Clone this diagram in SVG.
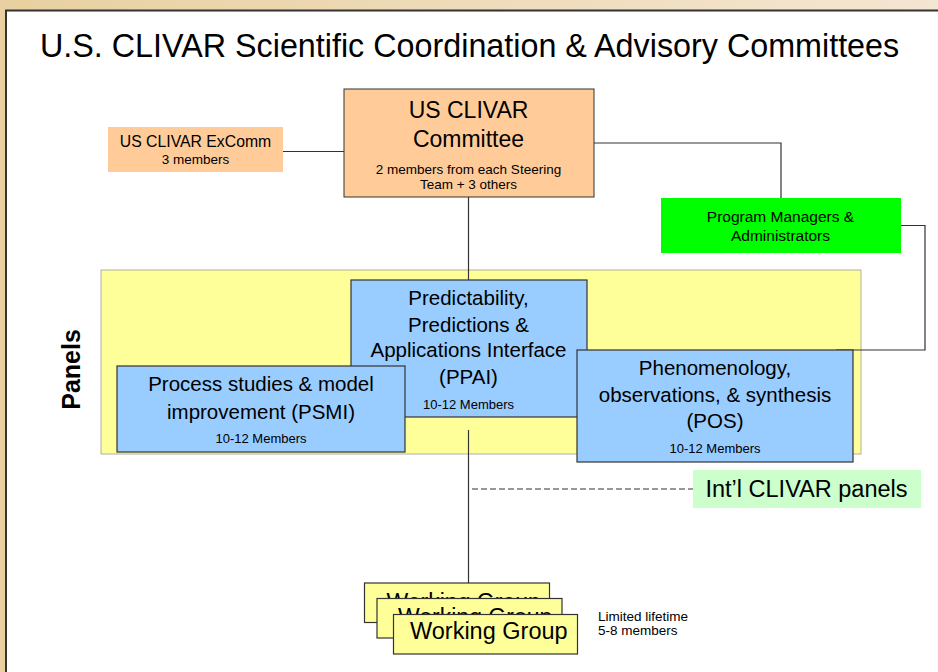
<svg xmlns="http://www.w3.org/2000/svg" width="938" height="672" viewBox="0 0 938 672">
  <defs>
    <linearGradient id="tan" x1="0" y1="0" x2="1" y2="0">
      <stop offset="0" stop-color="#E8D0A0"/>
      <stop offset="1" stop-color="#F4E6D2"/>
    </linearGradient>
    <!-- visible parts of the stacked working-group labels -->
    <clipPath id="wg1clip"><rect x="364.5" y="583" width="185" height="15.5"/></clipPath>
    <clipPath id="wg2clip"><rect x="377" y="598.5" width="182" height="16"/></clipPath>
  </defs>
  <style>
    text { font-family: "Liberation Sans", Arial, sans-serif; fill: #000; }
    .mid { text-anchor: middle; }
    .orange { fill: #FFCC99; }
    .orangeb { fill: #FFCC99; stroke: #333; stroke-width: 1; }
    .blue { fill: #99CCFF; stroke: #333; stroke-width: 1.2; }
    .wg { fill: #FFFF99; stroke: #333; stroke-width: 1.2; }
    .link { fill: none; stroke: #333; stroke-width: 1.2; }
    .dash { fill: none; stroke: #333; stroke-width: 1.1; stroke-dasharray: 6 3; }
  </style>

  <!-- page background and slide frame -->
  <rect x="0" y="0" width="938" height="672" fill="url(#tan)"/>
  <rect x="6" y="10.5" width="940" height="670" fill="#fff" stroke="#333" stroke-width="2"/>

  <text x="40" y="57" font-size="32.3">U.S. CLIVAR Scientific Coordination &amp; Advisory Committees</text>

  <!-- panels container -->
  <g id="panels">
    <rect x="101" y="270" width="760" height="184" fill="#FFFF99" stroke="#B0B0A0" stroke-width="1"/>
    <text transform="translate(80,369.5) rotate(-90)" class="mid" font-size="25" font-weight="bold">Panels</text>
  </g>

  <!-- connectors -->
  <g id="connectors">
    <line class="link" x1="283" y1="151.5" x2="344" y2="151.5"/>
    <polyline class="link" points="594,143 781,143 781,198"/>
    <polyline class="link" points="901,225.5 925,225.5 925,350 836,350"/>
    <line class="link" x1="468.5" y1="197" x2="468.5" y2="280"/>
    <line class="link" x1="468.5" y1="430" x2="468.5" y2="583"/>
    <line class="dash" x1="472" y1="489" x2="693" y2="489"/>
  </g>

  <g id="excomm">
    <rect class="orange" x="108" y="127" width="175" height="45"/>
    <text class="mid" x="195.5" y="147" font-size="15.8">US CLIVAR ExComm</text>
    <text class="mid" x="195.5" y="163.5" font-size="13.5">3 members</text>
  </g>

  <g id="committee">
    <rect class="orangeb" x="344" y="89" width="250" height="108"/>
    <text class="mid" x="468.5" y="117.5" font-size="23">US CLIVAR</text>
    <text class="mid" x="468.5" y="147" font-size="23">Committee</text>
    <text class="mid" x="468.5" y="173.5" font-size="13.5">2 members from each Steering</text>
    <text class="mid" x="468.5" y="189" font-size="13.5">Team + 3 others</text>
  </g>

  <g id="program-managers">
    <rect x="661" y="198" width="240" height="55" fill="#00FF00"/>
    <text class="mid" x="780.5" y="222" font-size="15.5">Program Managers &amp;</text>
    <text class="mid" x="780.5" y="241" font-size="15.5">Administrators</text>
  </g>

  <g id="ppai">
    <rect class="blue" x="351" y="280" width="236" height="137"/>
    <text class="mid" x="468.5" y="305" font-size="20.5">Predictability,</text>
    <text class="mid" x="468.5" y="331.5" font-size="20.5">Predictions &amp;</text>
    <text class="mid" x="468.5" y="356.5" font-size="20.5">Applications Interface</text>
    <text class="mid" x="468.5" y="383.5" font-size="20.5">(PPAI)</text>
    <text class="mid" x="468.5" y="408.5" font-size="13">10-12 Members</text>
  </g>

  <g id="psmi">
    <rect class="blue" x="117" y="366" width="288" height="86"/>
    <text class="mid" x="261" y="391" font-size="20.5">Process studies &amp; model</text>
    <text class="mid" x="261" y="418.5" font-size="20.5">improvement (PSMI)</text>
    <text class="mid" x="261" y="443" font-size="13">10-12 Members</text>
  </g>

  <g id="pos">
    <rect class="blue" x="577" y="350" width="276" height="112"/>
    <text class="mid" x="715" y="375" font-size="20.5">Phenomenology,</text>
    <text class="mid" x="715" y="402" font-size="20.5">observations, &amp; synthesis</text>
    <text class="mid" x="715" y="427.5" font-size="20.5">(POS)</text>
    <text class="mid" x="715" y="452.5" font-size="13">10-12 Members</text>
  </g>

  <g id="intl-panels">
    <rect x="693" y="470" width="228" height="38" fill="#CCFFCC"/>
    <text class="mid" x="806.5" y="497" font-size="23.5">Int’l CLIVAR panels</text>
  </g>

  <!-- stacked working groups, each front card hides the one behind -->
  <g id="working-group-1">
    <rect class="wg" x="364.5" y="583" width="185" height="39.5"/>
    <text x="386.5" y="610" font-size="23" clip-path="url(#wg1clip)">Working Group</text>
  </g>
  <g id="working-group-2">
    <rect class="wg" x="377" y="598.5" width="185" height="39.5"/>
    <text x="398" y="624.5" font-size="23" clip-path="url(#wg2clip)">Working Group</text>
  </g>
  <g id="working-group-3">
    <rect class="wg" x="393.5" y="614.5" width="184" height="39.5"/>
    <text x="410" y="639" font-size="23.5">Working Group</text>
  </g>

  <g id="wg-note">
    <text x="598" y="621" font-size="13.5">Limited lifetime</text>
    <text x="598" y="635" font-size="13.5">5-8 members</text>
  </g>
</svg>
